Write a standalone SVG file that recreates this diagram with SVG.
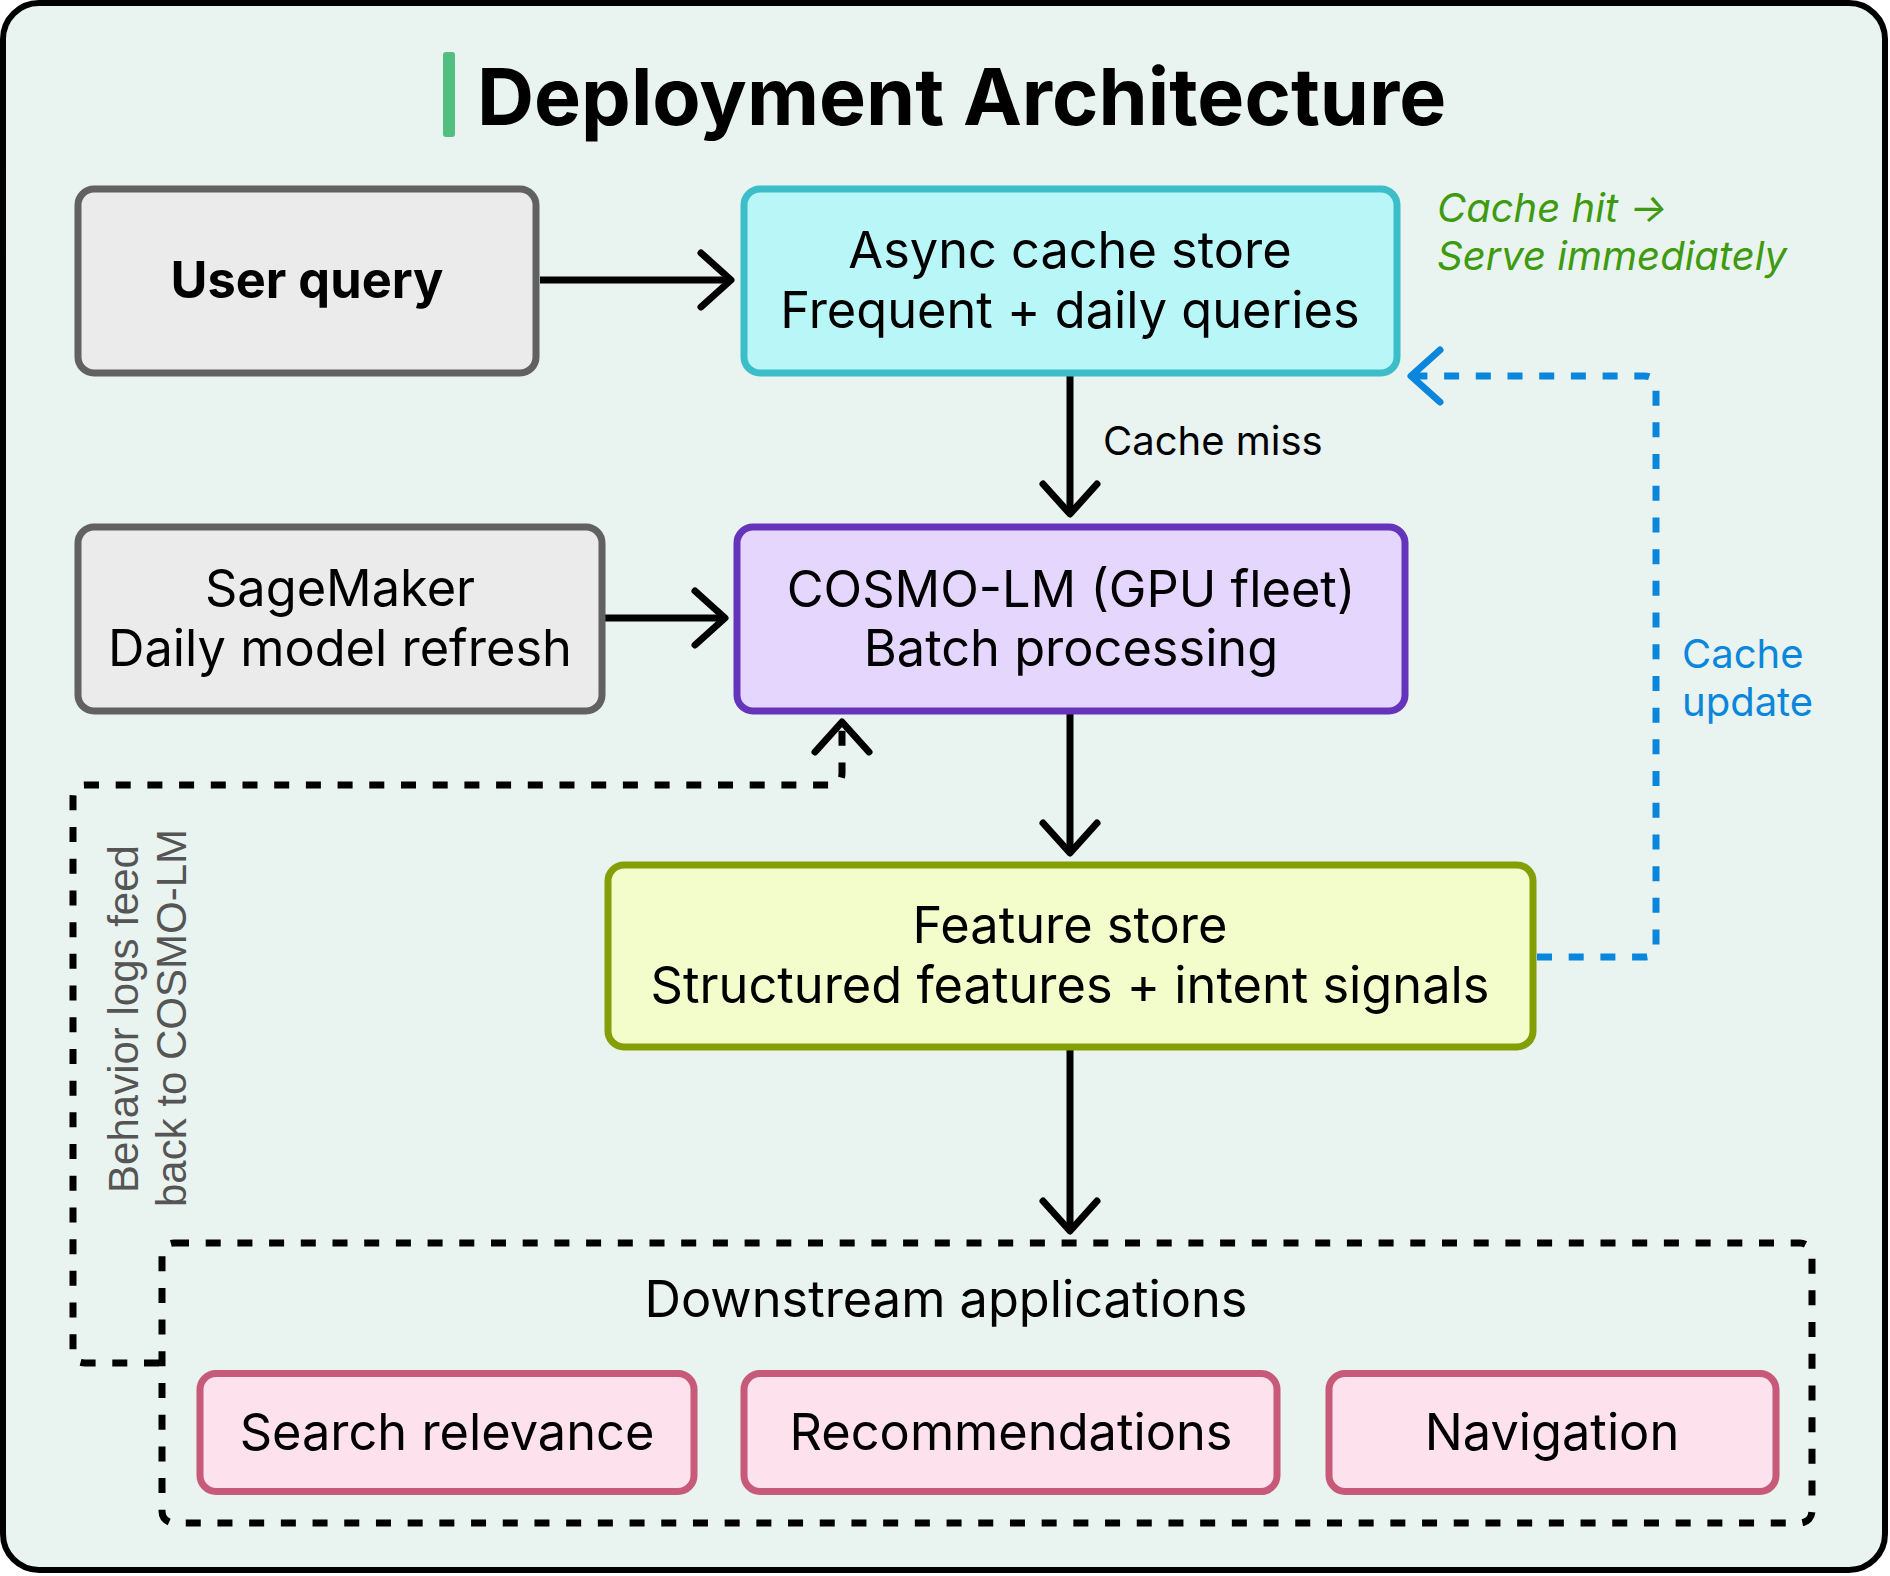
<svg xmlns="http://www.w3.org/2000/svg" width="1890" height="1576" viewBox="0 0 1890 1576">
  <defs>
    <style>
      .t { font-family: Inter, "Liberation Sans", Arial, sans-serif; fill: #000; }
      .lbl { font-size: 50.5px; text-anchor: middle; }
      .small { font-size: 40px; }
      .box { stroke-width: 7; }
      .gray { fill: #ebebeb; stroke: #616161; }
      .cyan { fill: #b9f6f8; stroke: #3bbec8; }
      .purple { fill: #e4d6fd; stroke: #6633bb; }
      .olive { fill: #f3fccb; stroke: #849e06; }
      .pink { fill: #fde1ec; stroke: #c75a79; }
      .conn { fill: none; stroke: #000; stroke-width: 7; }
      .dash { stroke-dasharray: 15 16.7; }
      .blue { stroke: #0a87dc; }
    </style>
    <marker id="ah" markerUnits="userSpaceOnUse" viewBox="-40 -40 50 80" refX="0" refY="0" markerWidth="50" markerHeight="80" orient="auto" overflow="visible">
      <path d="M-30,-27 L0,0 L-30,27" fill="none" stroke="#000" stroke-width="7" stroke-linecap="round" stroke-linejoin="round"/>
    </marker>
    <marker id="ahb" markerUnits="userSpaceOnUse" viewBox="-40 -40 50 80" refX="0" refY="0" markerWidth="50" markerHeight="80" orient="auto" overflow="visible">
      <path d="M-29,-26 L0,0 L-29,26" fill="none" stroke="#0a87dc" stroke-width="7" stroke-linecap="round" stroke-linejoin="round"/>
    </marker>
  </defs>

  <rect id="frame" x="3" y="3" width="1882" height="1567" rx="36" fill="#e9f3ef" stroke="#000" stroke-width="6"/>

  <g id="title">
    <rect x="443" y="52" width="12" height="85" rx="3" fill="#52be80"/>
    <text class="t" x="477" y="125" font-size="79" font-weight="700">Deployment Architecture</text>
  </g>

  <g id="downstream">
    <rect x="162" y="1243" width="1650" height="280" rx="12" fill="none" stroke="#000" stroke-width="7" class="dash"/>
    <text class="t lbl" x="946" y="1317">Downstream applications</text>
  </g>

  <g id="connectors">
    <path class="conn" d="M540,280 H731" marker-end="url(#ah)"/>
    <path class="conn" d="M1070,376 V514" marker-end="url(#ah)"/>
    <path class="conn" d="M605,618 H725" marker-end="url(#ah)"/>
    <path class="conn" d="M1070,714 V853" marker-end="url(#ah)"/>
    <path class="conn" d="M1070,1050 V1231" marker-end="url(#ah)"/>
    <path class="conn dash blue" d="M1537,957 H1644 Q1656,957 1656,945 V388 Q1656,376 1644,376 H1411" marker-end="url(#ahb)"/>
    <path class="conn dash" d="M159,1363 H85 Q73,1363 73,1351 V797 Q73,785 85,785 H830 Q842,785 842,773 V722" marker-end="url(#ah)"/>
  </g>

  <g id="user-query">
    <rect class="box gray" x="78" y="189" width="458" height="184" rx="16"/>
    <text class="t lbl" x="307" y="298" font-weight="700">User query</text>
  </g>

  <g id="async-cache">
    <rect class="box cyan" x="744" y="189" width="653" height="184" rx="16"/>
    <text class="t lbl" x="1070" y="268">Async cache store</text>
    <text class="t lbl" x="1070" y="328">Frequent + daily queries</text>
  </g>

  <g id="sagemaker">
    <rect class="box gray" x="78" y="527" width="524" height="184" rx="16"/>
    <text class="t lbl" x="340" y="606">SageMaker</text>
    <text class="t lbl" x="340" y="666">Daily model refresh</text>
  </g>

  <g id="cosmo-lm">
    <rect class="box purple" x="737" y="527" width="668" height="184" rx="16"/>
    <text class="t lbl" x="1071" y="607">COSMO-LM (GPU fleet)</text>
    <text class="t lbl" x="1071" y="666">Batch processing</text>
  </g>

  <g id="feature-store">
    <rect class="box olive" x="608" y="865" width="925" height="182" rx="16"/>
    <text class="t lbl" x="1070" y="943">Feature store</text>
    <text class="t lbl" x="1070" y="1003">Structured features + intent signals</text>
  </g>

  <g id="search-relevance">
    <rect class="box pink" x="200" y="1373.5" width="494" height="118" rx="16"/>
    <text class="t lbl" x="447" y="1450">Search relevance</text>
  </g>

  <g id="recommendations">
    <rect class="box pink" x="744" y="1373.5" width="533" height="118" rx="16"/>
    <text class="t lbl" x="1011" y="1450">Recommendations</text>
  </g>

  <g id="navigation">
    <rect class="box pink" x="1329" y="1373.5" width="447" height="118" rx="16"/>
    <text class="t lbl" x="1552" y="1450">Navigation</text>
  </g>

  <g id="labels">
    <text class="t small" x="1103" y="455">Cache miss</text>
    <text class="t small" x="1437" y="222" font-style="italic" style="fill:#3e9a0e">Cache hit →</text>
    <text class="t small" x="1437" y="270" font-style="italic" style="fill:#3e9a0e">Serve immediately</text>
    <text class="t small" x="1682" y="668" style="fill:#0a87dc">Cache</text>
    <text class="t small" x="1682" y="716" style="fill:#0a87dc">update</text>
    <text transform="translate(138,1019) rotate(-90)" text-anchor="middle" font-family="'Liberation Sans', Arial, sans-serif" font-size="42" fill="#555555">Behavior logs feed</text>
    <text transform="translate(186,1018) rotate(-90)" text-anchor="middle" font-family="'Liberation Sans', Arial, sans-serif" font-size="42" fill="#555555">back to COSMO-LM</text>
  </g>
</svg>
